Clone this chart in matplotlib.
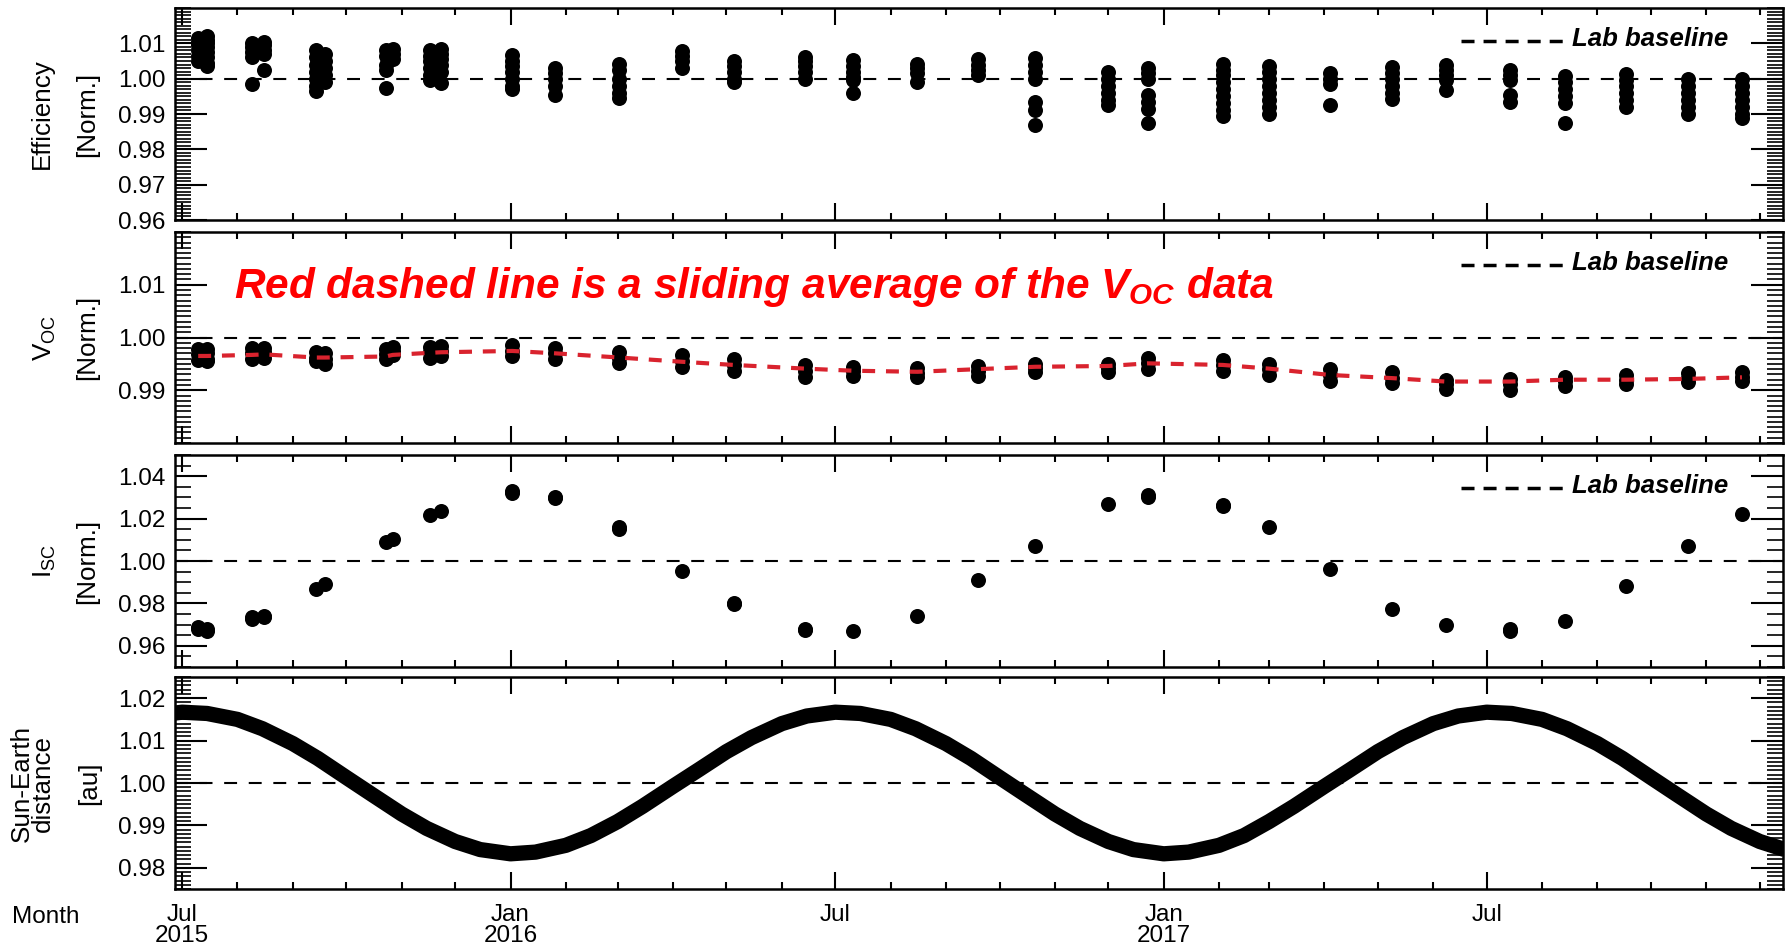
import numpy as np
import pandas as pd
import matplotlib
matplotlib.use("Agg")
import matplotlib.pyplot as plt
import matplotlib.dates as mdates
from matplotlib.ticker import MultipleLocator, FormatStrFormatter

plt.rcParams["font.family"] = ["Liberation Sans", "DejaVu Sans"]
plt.rcParams["mathtext.fontset"] = "custom"
plt.rcParams["mathtext.rm"] = "Liberation Sans"
plt.rcParams["mathtext.it"] = "Liberation Sans:italic:bold"
plt.rcParams["mathtext.bf"] = "Liberation Sans:bold"

# measurement visits (first five campaigns spread over two days)
visit_dates = ["2015-07-10", "2015-07-15", "2015-08-09", "2015-08-16", "2015-09-14",
               "2015-09-19", "2015-10-23", "2015-10-27", "2015-11-17", "2015-11-23",
               "2016-01-02", "2016-01-26", "2016-03-02", "2016-04-06", "2016-05-05",
               "2016-06-14", "2016-07-11", "2016-08-16", "2016-09-19", "2016-10-21",
               "2016-12-01", "2016-12-23", "2017-02-03", "2017-03-01", "2017-04-04",
               "2017-05-09", "2017-06-08", "2017-07-14", "2017-08-14", "2017-09-17",
               "2017-10-22", "2017-11-21"]

eff_values = [
    [1.0115, 1.0105, 1.0095, 1.008, 1.0065, 1.005],
    [1.012, 1.011, 1.010, 1.009, 1.0075, 1.006, 1.0045, 1.0035],
    [1.010, 1.009, 1.0075, 1.006, 0.9985],
    [1.0105, 1.0095, 1.008, 1.007, 1.0025],
    [1.008, 1.006, 1.004, 1.002, 1.000, 0.998, 0.9965],
    [1.007, 1.005, 1.003, 1.001, 0.999],
    [1.008, 1.0065, 1.004, 1.0025, 0.9975],
    [1.0085, 1.007, 1.0055],
    [1.008, 1.0065, 1.005, 1.003, 1.001, 0.9995],
    [1.0085, 1.007, 1.0055, 1.004, 1.002, 0.9988],
    [1.0068, 1.005, 1.0035, 1.002, 1.000, 0.998, 0.997],
    [1.003, 1.0015, 1.000, 0.998, 0.9955],
    [1.0042, 1.0025, 1.000, 0.998, 0.996, 0.9945],
    [1.0077, 1.0065, 1.005, 1.003],
    [1.005, 1.0035, 1.002, 1.000, 0.999],
    [1.0062, 1.005, 1.0035, 1.002, 1.000],
    [1.0053, 1.0035, 1.002, 1.0005, 0.9995, 0.996],
    [1.0042, 1.003, 1.0015, 0.999],
    [1.0056, 1.004, 1.0025, 1.001],
    [1.0058, 1.004, 1.002, 1.000, 0.9935, 0.991, 0.987],
    [1.0018, 1.000, 0.998, 0.996, 0.994, 0.9925],
    [1.003, 1.0015, 1.000, 0.9955, 0.9935, 0.9915, 0.9875],
    [1.0042, 1.0025, 1.001, 0.999, 0.997, 0.995, 0.993, 0.991, 0.9895],
    [1.0037, 1.002, 1.000, 0.998, 0.996, 0.994, 0.992, 0.990],
    [1.0015, 1.000, 0.9985, 0.9925],
    [1.0032, 1.0015, 1.000, 0.998, 0.996, 0.9942],
    [1.004, 1.0025, 1.001, 0.9995, 0.9967],
    [1.0025, 1.001, 0.9995, 0.9955, 0.9935],
    [1.0008, 0.999, 0.997, 0.995, 0.993, 0.9875],
    [1.0013, 0.9995, 0.998, 0.996, 0.994, 0.992],
    [1.000, 0.998, 0.996, 0.994, 0.992, 0.990],
    [1.000, 0.998, 0.996, 0.994, 0.992, 0.990, 0.989],
]

voc_values = [
    [0.9978, 0.9968, 0.9958], [0.9979, 0.9970, 0.9960, 0.9956],
    [0.9980, 0.9970, 0.9960], [0.9980, 0.9972, 0.9962],
    [0.9972, 0.9962, 0.9955], [0.9970, 0.9960, 0.9950],
    [0.9978, 0.9968, 0.9960], [0.9982, 0.9974, 0.9966],
    [0.9982, 0.9972, 0.9962], [0.9984, 0.9975, 0.9965],
    [0.9985, 0.9975, 0.9965], [0.9981, 0.9970, 0.9960],
    [0.9972, 0.9962, 0.9952], [0.9966, 0.9956, 0.9945],
    [0.9960, 0.9948, 0.9937], [0.9948, 0.9937, 0.9925],
    [0.9945, 0.9936, 0.9927], [0.9942, 0.9933, 0.9925],
    [0.9946, 0.9937, 0.9927], [0.9950, 0.9942, 0.9934],
    [0.9950, 0.9942, 0.9934], [0.9962, 0.9952, 0.9940],
    [0.9958, 0.9948, 0.9937], [0.9950, 0.9940, 0.9928],
    [0.9940, 0.9929, 0.9918], [0.9935, 0.9924, 0.9913],
    [0.9920, 0.9911, 0.9902], [0.9922, 0.9911, 0.9900],
    [0.9926, 0.9917, 0.9908], [0.9928, 0.9920, 0.9912],
    [0.9933, 0.9924, 0.9915], [0.9934, 0.9926, 0.9918],
]

# sliding average of V_OC
voc_avg = [0.9965, 0.9965, 0.9967, 0.9968, 0.9962, 0.9962, 0.9964, 0.9967,
           0.9971, 0.9972, 0.99745, 0.9970, 0.9962, 0.9954, 0.9948, 0.9941,
           0.9937, 0.9935, 0.9940, 0.99445, 0.9946, 0.9951, 0.9948, 0.9941,
           0.9929, 0.9923, 0.99165, 0.99165, 0.9920, 0.9920, 0.99215, 0.99245]

isc_values = [
    [0.969, 0.968], [0.968, 0.967], [0.9725, 0.9735], [0.974, 0.9735],
    [0.987], [0.989], [1.009], [1.0105], [1.0215], [1.0235],
    [1.032, 1.033], [1.0295, 1.030], [1.015, 1.016], [0.9955],
    [0.980, 0.9795], [0.968, 0.9675], [0.9668], [0.974], [0.991],
    [1.007], [1.027], [1.030, 1.031], [1.026, 1.0265], [1.016],
    [0.996], [0.9775], [0.970], [0.968, 0.967], [0.9716], [0.988],
    [1.007], [1.022],
]

# Sun-Earth distance [au] on the 1st and 15th of each month
earth_dates = pd.date_range("2015-06-15", "2017-12-15", freq="SMS")
earth_au = [1.0159,
            1.0167, 1.0164, 1.0150, 1.0128, 1.0093, 1.0058, 1.0013, 0.9974,
            0.9927, 0.9893, 0.9862, 0.9843,
            0.9833, 0.9837, 0.9853, 0.9876, 0.9909, 0.9945, 0.9992, 1.0030,
            1.0074, 1.0107, 1.0140, 1.0158,
            1.0167, 1.0164, 1.0150, 1.0128, 1.0093, 1.0058, 1.0013, 0.9974,
            0.9927, 0.9893, 0.9862, 0.9843,
            0.9833, 0.9837, 0.9853, 0.9876, 0.9909, 0.9945, 0.9992, 1.0030,
            1.0074, 1.0107, 1.0140, 1.0158,
            1.0167, 1.0164, 1.0150, 1.0128, 1.0093, 1.0058, 1.0013, 0.9974,
            0.9927, 0.9893, 0.9862, 0.9843]

month_ticks = ["2015-07-01", "2016-01-01", "2016-07-01", "2017-01-01", "2017-07-01"]
month_labels = ["Jul\n2015", "Jan\n2016", "Jul", "Jan\n2017", "Jul"]

panel_ylim = [(0.96, 1.02), (0.98, 1.02), (0.95, 1.05), (0.975, 1.025)]
panel_yticks = [[0.96, 0.97, 0.98, 0.99, 1.00, 1.01],
                [0.99, 1.00, 1.01],
                [0.96, 0.98, 1.00, 1.02, 1.04],
                [0.98, 0.99, 1.00, 1.01, 1.02]]
panel_yminor = [0.001, 0.001, 0.005, 0.001]

W, H = 1789, 949
fig = plt.figure(figsize=(W / 100, H / 100), dpi=100)
tops = [8, 232, 455, 677]
heights = [212, 211, 212, 212]
x0, x1 = 175, 1783
axes = []
for t, h in zip(tops, heights):
    ax = fig.add_axes([x0 / W, 1 - (t + h) / H, (x1 - x0) / W, h / H])
    axes.append(ax)

vdates = pd.to_datetime(visit_dates)
xlim = (pd.Timestamp("2015-06-27"), pd.Timestamp("2017-12-14"))
FS = 17.5
FSL = 18.7
dot = dict(ls="none", marker="o", ms=10.8, color="k", mew=0, zorder=3)

for i, ax in enumerate(axes):
    ax.axhline(1.0, color="k", lw=1.5, dashes=(6.2, 5.6), zorder=2)
    ax.set_xlim(*xlim)
    ax.set_ylim(*panel_ylim[i])
    ax.set_yticks(panel_yticks[i])
    ax.yaxis.set_major_formatter(FormatStrFormatter("%.2f"))
    ax.yaxis.set_minor_locator(MultipleLocator(panel_yminor[i]))
    ax.xaxis.set_major_locator(mdates.MonthLocator(bymonth=[1, 7]))
    ax.xaxis.set_minor_locator(mdates.MonthLocator())
    ax.tick_params(axis="both", which="both", direction="in", top=True,
                   right=True, width=1.5, colors="k")
    ax.tick_params(axis="y", which="major", length=23, labelsize=FS, pad=7)
    ax.tick_params(axis="y", which="minor", length=11.5, width=1.2)
    ax.tick_params(axis="x", which="major", length=12, labelsize=FS, pad=11)
    ax.tick_params(axis="x", which="minor", length=5)
    for s in ax.spines.values():
        s.set_linewidth(1.8)
    if i < 3:
        ax.tick_params(axis="x", labelbottom=False)
        ax.plot([0.800, 0.863], [0.842, 0.842], transform=ax.transAxes,
                color="k", lw=2.5, dashes=(3.75, 2.6))
        ax.text(0.869, 0.853, "Lab baseline", transform=ax.transAxes,
                fontsize=18.5, fontweight="bold", fontstyle="italic", va="center")

# Efficiency
for d, vals in zip(vdates, eff_values):
    axes[0].plot([d] * len(vals), vals, **dot)

# V_OC
for d, vals in zip(vdates, voc_values):
    axes[1].plot([d] * len(vals), vals, **dot)
axes[1].plot(vdates, voc_avg, color="#d9232e", lw=3, dashes=(3.1, 2.6), zorder=4)
axes[1].text(0.0367, 0.687, r"Red dashed line is a sliding average of the $V_{OC}$ data",
             transform=axes[1].transAxes, color="red", fontsize=30.5,
             fontweight="bold", fontstyle="italic", va="baseline")

# I_SC
for d, vals in zip(vdates, isc_values):
    axes[2].plot([d] * len(vals), vals, **dot)

# Sun-Earth distance
axes[3].plot(earth_dates, earth_au, color="k", lw=11, solid_joinstyle="round",
             solid_capstyle="butt", zorder=3)
axes[3].set_xticks(pd.to_datetime(month_ticks), month_labels)
for t in axes[3].get_xticklabels():
    t.set_linespacing(0.92)


def ylab(ax, xpx, txt):
    ax.text((xpx - x0) / (x1 - x0), 0.5, txt, transform=ax.transAxes,
            rotation=90, ha="center", va="center", fontsize=FSL)


ylab(axes[0], 42, "Efficiency")
ylab(axes[0], 87, "[Norm.]")
ylab(axes[1], 45, r"$\mathrm{V_{OC}}$")
ylab(axes[1], 87, "[Norm.]")
ylab(axes[2], 45, r"$\mathrm{I_{SC}}$")
ylab(axes[2], 87, "[Norm.]")
ylab(axes[3], 22, "Sun-Earth")
ylab(axes[3], 43, "distance")
ylab(axes[3], 89, "[au]")

fig.text(12 / W, 1 - 923 / H, "Month", fontsize=FS, va="baseline", ha="left")

fig.savefig("out.png", dpi=100)
